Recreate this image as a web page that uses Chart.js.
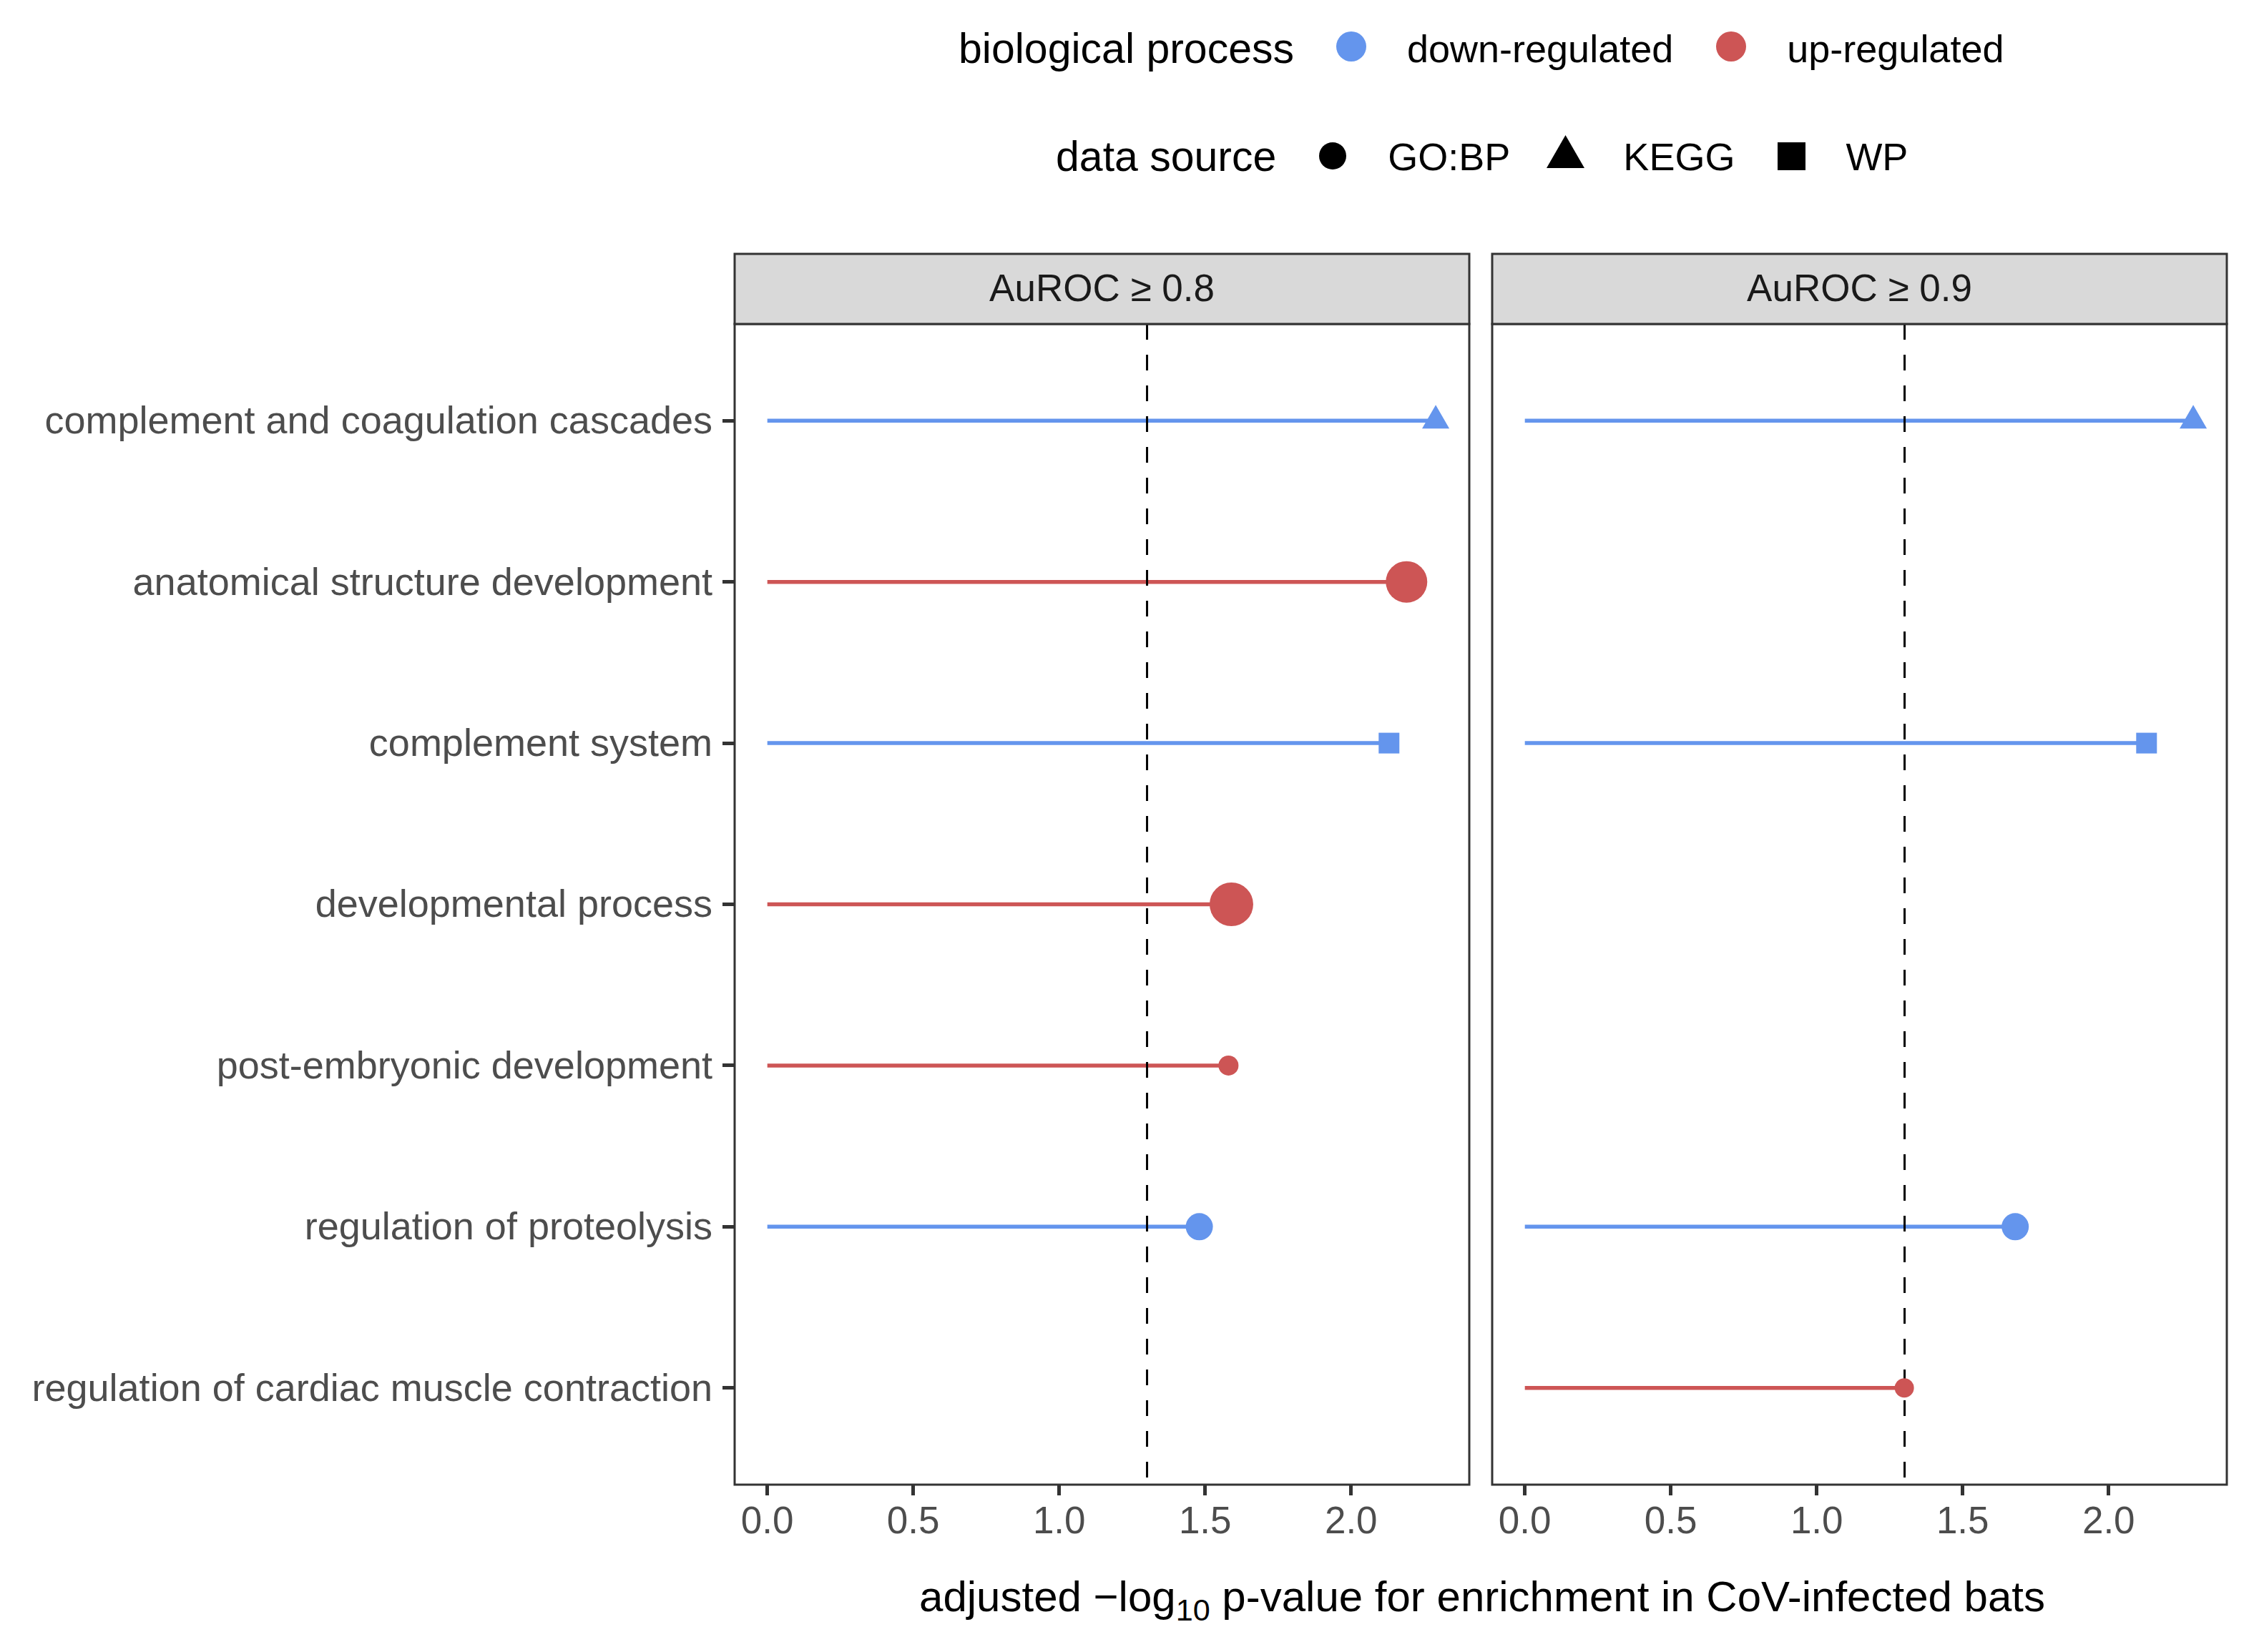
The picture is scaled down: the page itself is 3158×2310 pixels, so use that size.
<!DOCTYPE html>
<html>
<head>
<meta charset="utf-8">
<script src="https://cdn.jsdelivr.net/npm/chart.js@4.4.1/dist/chart.umd.min.js"></script>
<style>
    body { margin: 0; width: 3158px; height: 2310px; position: relative; background: #fff; overflow: hidden;
           font-family: "Liberation Sans", Arial, sans-serif; color: #000; }
    canvas { position: absolute; top: 340px; }
    #panelA { left: 0; }
    #panelB { left: 2062px; }
    .legendRow { position: absolute; height: 80px; display: flex; align-items: center; white-space: nowrap; }
    .legendRow span { line-height: 1; }
    .legendRow .title { font-size: 59px; }
    .legendRow .label { font-size: 54px; }
    .legendRow svg { display: block; position: relative; }
    #xTitle { position: absolute; left: 2072px; top: 2203px; transform: translateX(-50%);
              font-size: 60px; line-height: 1; white-space: nowrap; }
    #xTitle sub { font-size: 0.72em; line-height: 0; vertical-align: -0.3em; }
</style>
</head>
<body>

<div class="legendRow" style="left:1340px; top:28px;">
    <span class="title">biological process</span>
    <svg width="42" height="42" style="margin-left:59px; top:-3px;"><circle cx="21" cy="21" r="21" fill="#6495ED"/></svg>
    <span class="label" style="margin-left:57px;">down-regulated</span>
    <svg width="42" height="42" style="margin-left:60px; top:-3px;"><circle cx="21" cy="21" r="21" fill="#CD5555"/></svg>
    <span class="label" style="margin-left:57px;">up-regulated</span>
</div>

<div class="legendRow" style="left:1476px; top:179px;">
    <span class="title">data source</span>
    <svg width="38" height="38" style="margin-left:60px; top:-1px;"><circle cx="19" cy="19" r="19" fill="#000"/></svg>
    <span class="label" style="margin-left:58px;">GO:BP</span>
    <svg width="53" height="46" style="margin-left:51px; top:-7px;"><polygon points="26.5,0 53,46 0,46" fill="#000"/></svg>
    <span class="label" style="margin-left:54px;">KEGG</span>
    <svg width="39" height="39" style="margin-left:60px; top:-1px;"><rect x="0" y="0" width="39" height="39" fill="#000"/></svg>
    <span class="label" style="margin-left:56px;">WP</span>
</div>

<canvas id="panelA" width="2062" height="1840"></canvas>
<canvas id="panelB" width="1096" height="1840"></canvas>

<div id="xTitle">adjusted −log<sub>10</sub> p-value for enrichment in CoV-infected bats</div>

<script>
// ==============================
// DATA
// ==============================
const terms = [
    "complement and coagulation cascades",
    "anatomical structure development",
    "complement system",
    "developmental process",
    "post-embryonic development",
    "regulation of proteolysis",
    "regulation of cardiac muscle contraction"
];
const regulation = ["down", "up", "down", "up", "up", "down", "up"];
const dataSource = ["KEGG", "GO:BP", "WP", "GO:BP", "GO:BP", "GO:BP", "GO:BP"];

// adjusted -log10 p-values per facet (null = not enriched)
const scoreAuroc08 = [2.29, 2.19, 2.13, 1.59, 1.58, 1.48, null];
const scoreAuroc09 = [2.29, null, 2.13, null, null, 1.68, 1.30];

const facetTitles = ["AuROC ≥ 0.8", "AuROC ≥ 0.9"];
const xTicks = [0.0, 0.5, 1.0, 1.5, 2.0];
const threshold = 1.301; // -log10(0.05)

// ==============================
// STYLE
// ==============================
const regColor = { down: "#6495ED", up: "#CD5555" };
const shapeOf = { "GO:BP": "circle", "KEGG": "triangle", "WP": "rect" };
const radiusAuroc08 = [22, 29, 20.5, 30.5, 14, 19, 0];
const radiusAuroc09 = [22, 0, 20.5, 0, 0, 19, 13.5];

const TEXT_GREY = "#4D4D4D";
const LINE_DARK = "#333333";
const STRIP_H = 98;

Chart.defaults.font.family = '"Liberation Sans", Arial, sans-serif';

// ==============================
// BUILD DATASETS
// ==============================
function buildDatasets(scores, radii) {
    const sets = [];
    const pts = [], styles = [], colors = [], sizes = [];
    scores.forEach((v, i) => {
        if (v === null) return;
        const col = regColor[regulation[i]];
        sets.push({
            data: [{ x: 0, y: i }, { x: v, y: i }],
            showLine: true,
            borderColor: col,
            borderWidth: 5.5,
            borderCapStyle: "butt",
            pointRadius: 0,
            order: 2
        });
        pts.push({ x: v, y: i });
        styles.push(shapeOf[dataSource[i]]);
        colors.push(col);
        sizes.push(radii[i]);
    });
    sets.push({
        data: pts,
        isPoints: true,
        showLine: false,
        pointStyle: styles,
        pointRadius: sizes,
        pointBackgroundColor: colors,
        pointBorderColor: colors,
        pointBorderWidth: 0,
        order: 1
    });
    return sets;
}

// ==============================
// PLUGINS: threshold line, panel border, facet strip
// ==============================
const facetPlugin = {
    id: "facet",
    beforeDatasetDraw(chart, args) {
        if (!chart.data.datasets[args.index].isPoints) return;
        const { ctx, chartArea } = chart;
        const x = chart.scales.x.getPixelForValue(threshold);
        ctx.save();
        ctx.strokeStyle = "#000";
        ctx.lineWidth = 3;
        ctx.setLineDash([22, 21]);
        ctx.beginPath();
        ctx.moveTo(x, chartArea.top);
        ctx.lineTo(x, chartArea.bottom);
        ctx.stroke();
        ctx.restore();
    },
    afterDraw(chart, args, opts) {
        const { ctx, chartArea: a } = chart;
        ctx.save();
        ctx.strokeStyle = LINE_DARK;
        ctx.lineWidth = 3;
        ctx.strokeRect(a.left, a.top, a.right - a.left, a.bottom - a.top);
        ctx.fillStyle = "#D9D9D9";
        ctx.fillRect(a.left, a.top - STRIP_H, a.right - a.left, STRIP_H);
        ctx.strokeRect(a.left, a.top - STRIP_H, a.right - a.left, STRIP_H);
        ctx.fillStyle = "#1A1A1A";
        ctx.font = '53px "Liberation Sans", Arial, sans-serif';
        ctx.textAlign = "center";
        ctx.textBaseline = "middle";
        ctx.fillText(opts.title, (a.left + a.right) / 2, a.top - STRIP_H / 2 + 2);
        ctx.restore();
    }
};

// ==============================
// MAKE ONE FACET
// ==============================
function makeFacet(canvasId, title, scores, radii, showY, padding, target) {
    const chart = new Chart(document.getElementById(canvasId), {
        type: "scatter",
        data: { datasets: buildDatasets(scores, radii) },
        plugins: [facetPlugin],
        options: {
            responsive: false,
            animation: false,
            devicePixelRatio: 1,
            events: [],
            layout: { padding: padding, autoPadding: false },
            plugins: {
                legend: { display: false },
                tooltip: { enabled: false },
                facet: { title: title }
            },
            scales: {
                x: {
                    type: "linear",
                    min: -0.112,
                    max: 2.405,
                    afterBuildTicks: s => { s.ticks = xTicks.map(v => ({ value: v })); },
                    afterFit: s => { s.height = 104; },
                    ticks: {
                        callback: v => v.toFixed(1),
                        font: { size: 53 },
                        color: TEXT_GREY,
                        padding: 7,
                        autoSkip: false,
                        maxRotation: 0
                    },
                    grid: { drawOnChartArea: false, tickLength: 15, tickWidth: 5, tickColor: LINE_DARK },
                    border: { display: false }
                },
                y: {
                    type: "linear",
                    display: showY,
                    reverse: true,
                    min: -0.6,
                    max: terms.length - 0.4,
                    afterBuildTicks: s => { s.ticks = terms.map((t, i) => ({ value: i })); },
                    afterFit: s => { if (showY) s.width = 1027; },
                    ticks: {
                        callback: v => terms[v],
                        font: { size: 54 },
                        color: TEXT_GREY,
                        padding: 14,
                        labelOffset: 3,
                        autoSkip: false
                    },
                    grid: { drawOnChartArea: false, tickLength: 17, tickWidth: 5, tickColor: LINE_DARK },
                    border: { display: false }
                }
            }
        }
    });

    // nudge layout padding so the panel lands where the facet grid wants it
    const a = chart.chartArea;
    const p = chart.options.layout.padding;
    p.right += a.right - target.right;
    p.top += target.top - a.top;
    if (!showY) p.left += target.left - a.left;
    chart.update();
}

document.addEventListener("DOMContentLoaded", () => {
    makeFacet("panelA", facetTitles[0], scoreAuroc08, radiusAuroc08, true,
              { top: 113, right: 8, left: 0, bottom: 0 }, { left: 1027, right: 2054, top: 113 });
    makeFacet("panelB", facetTitles[1], scoreAuroc09, radiusAuroc09, false,
              { top: 113, right: 45, left: 24, bottom: 0 }, { left: 24, right: 1051, top: 113 });
});
</script>
</body>
</html>
